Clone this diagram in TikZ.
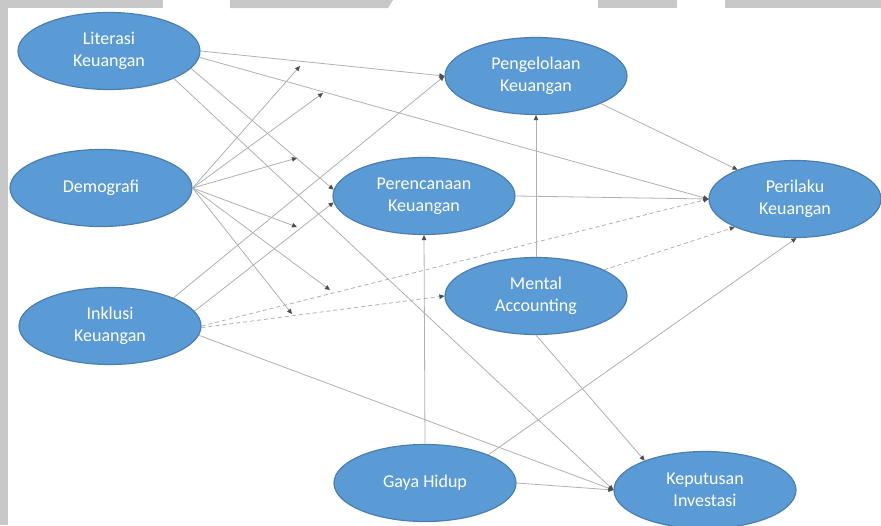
\documentclass[tikz,border=0pt]{standalone}
\usepackage{fontspec}
\setmainfont{Carlito}
\usetikzlibrary{arrows.meta}
\usetikzlibrary{shapes.geometric}

\definecolor{varblue}{HTML}{5B9BD5}
\definecolor{varedge}{HTML}{4A7EB0}
\definecolor{linegray}{HTML}{B0B0B0}
\definecolor{scangray}{HTML}{C8C8C8}

\begin{document}
\begin{tikzpicture} [x=1pt, y=-1pt,
  var/.style={ellipse, fill=varblue, draw=varedge, line width=1.2pt, minimum width=182pt, minimum height=77pt, inner sep=0pt, align=center, text=white, font=\fontsize{18}{22}\selectfont},
  link/.style={linegray, line width=0.8pt, -{Triangle[length=5pt,width=4.5pt,color=black!70]}},
  indirect/.style={link, dash pattern=on 4pt off 3pt}]

\useasboundingbox (0,0) rectangle (881,525);
\fill[white] (0,0) rectangle (881,525);

% scan edges
\fill[scangray] (0,0) rectangle (8,525);
\fill[scangray] (0,0) rectangle (163,8);
\fill[scangray] (230,0) -- (393,0) -- (388,8) -- (230,8) -- cycle;
\fill[scangray] (598,0) rectangle (677,8);
\fill[scangray] (725,0) rectangle (881,8);

% variables
\node[var] (lit) at (109,51) {Literasi\\Keuangan};
\node[var] (demo) at (101,188) {Demografi};
\node[var] (ink) at (110,326) {Inklusi\\Keuangan};
\node[var] (peng) at (536,76) {Pengelolaan\\Keuangan};
\node[var] (peren) at (424,196) {Perencanaan\\Keuangan};
\node[var] (mental) at (536,296) {Mental\\Accounting};
\node[var, minimum width=172pt] (per) at (795,199) {Perilaku\\Keuangan};
\node[var] (gaya) at (425,483) {Gaya Hidup};
\node[var] (kep) at (705,490) {Keputusan\\Investasi};

% points where the demografi arrows stop
\coordinate (m1) at (300,66);
\coordinate (m2) at (323,93);
\coordinate (m3) at (297,158);
\coordinate (m4) at (297,227);
\coordinate (m5) at (330,290);
\coordinate (m6) at (292,314);

% paths
\draw[link] (lit.east) -- (peng.west);
\draw[link] (lit.-4) -- (per.west);
\draw[link] (lit.-12) -- (peren.176);
\draw[link] (lit.-23) -- (kep.west);
\draw[link] (ink.24) -- (peng.west);
\draw[link] (ink.10) -- (peren.184);
\draw[indirect] (ink.east) -- (per.west);
\draw[indirect] (ink.-1) -- (mental.west);
\draw[link] (ink.-6) -- (kep.west);
\draw[link] (peng.-23) -- (per.153);
\draw[link] (peren.east) -- (per.west);
\draw[link] (mental.north) -- (peng.south);
\draw[indirect] (mental.21) -- (per.205);
\draw[link] (mental.south) -- (kep.154);
\draw[link] (gaya.north) -- (peren.south);
\draw[link] (gaya.24) -- (per.-88);
\draw[link] (gaya.east) -- (kep.west);

\foreach \m in {m1,m2,m3,m4,m5,m6} {
 \draw[link] (demo.east) -- (\m);
};

\end{tikzpicture}
\end{document}
